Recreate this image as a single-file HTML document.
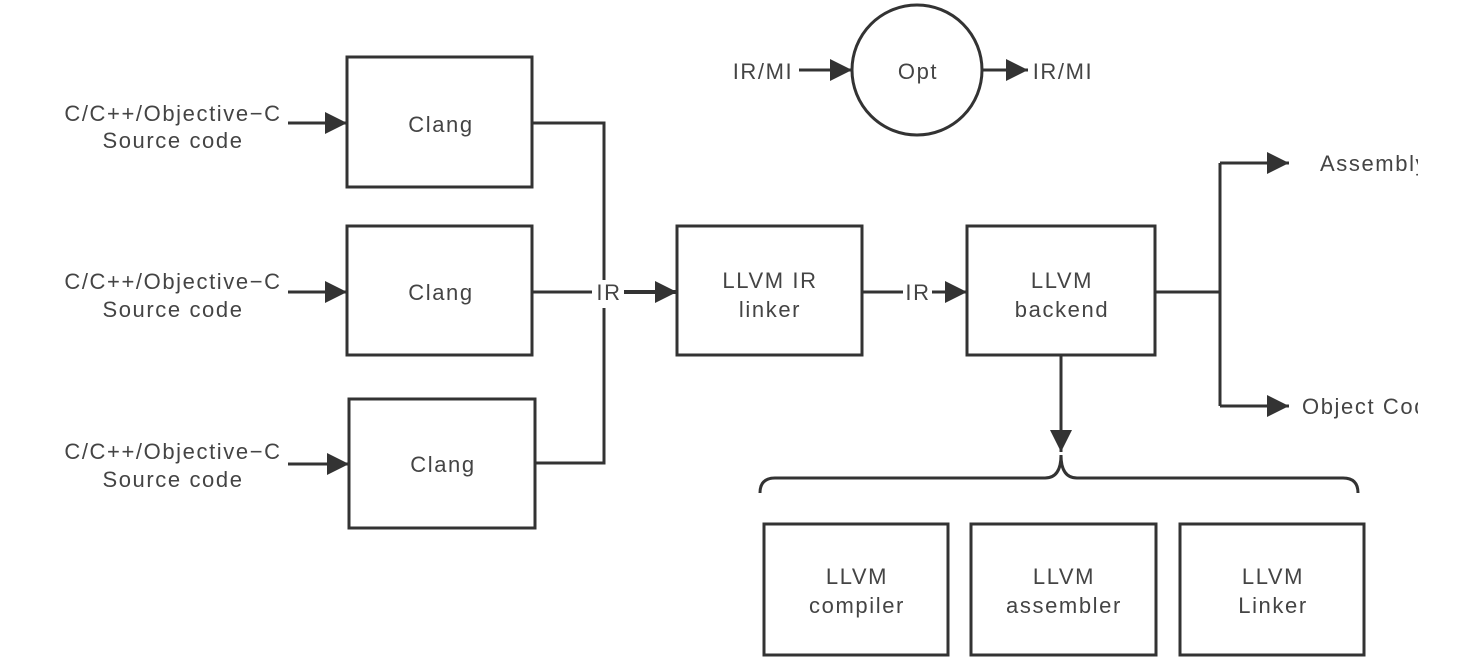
<!DOCTYPE html>
<html><head><meta charset="utf-8"><style>
html,body{margin:0;padding:0;background:#fff;}
svg{display:block;}
text{font-family:"Liberation Sans",sans-serif;font-size:22px;letter-spacing:1.6px;fill:#444;text-anchor:middle;}
</style></head><body>
<svg width="1469" height="664" viewBox="0 0 1469 664" xmlns="http://www.w3.org/2000/svg">
<defs>
<marker id="b" viewBox="0 0 10 10" refX="10" refY="5" markerWidth="32" markerHeight="22" markerUnits="userSpaceOnUse" orient="auto"><path d="M0,0L10,5L0,10z" fill="#333"/></marker>
</defs>
<g stroke="#333" stroke-width="3" fill="none">
<rect x="347" y="57" width="185" height="130"/>
<rect x="347" y="226" width="185" height="129"/>
<rect x="349" y="399" width="186" height="129"/>
<rect x="677" y="226" width="185" height="129"/>
<rect x="967" y="226" width="188" height="129"/>
<rect x="764" y="524" width="184" height="131"/>
<rect x="971" y="524" width="185" height="131"/>
<rect x="1180" y="524" width="184" height="131"/>
<circle cx="917" cy="70" r="65"/>
<path d="M532,123H604V280M604,308V463H535"/>
<path d="M532,292H592"/>
<path d="M862,292H903"/>
<path d="M1155,292H1220M1220,163V406"/>
<path d="M760,493Q760,478 775,478H1045Q1061,478 1061,455Q1061,478 1077,478H1343Q1358,478 1358,493"/>
</g>
<g stroke="#333" stroke-width="3" marker-end="url(#b)">
<line x1="288" y1="123" x2="347" y2="123"/>
<line x1="288" y1="292" x2="347" y2="292"/>
<line x1="288" y1="464" x2="349" y2="464"/>
<line x1="624" y1="292" x2="677" y2="292" stroke-width="4"/>
<line x1="932" y1="292" x2="967" y2="292"/>
<line x1="1220" y1="163" x2="1289" y2="163"/>
<line x1="1220" y1="406" x2="1289" y2="406"/>
<line x1="1061" y1="355" x2="1061" y2="452"/>
<line x1="799" y1="70" x2="852" y2="70"/>
<line x1="983" y1="70" x2="1028" y2="70"/>
</g>
<text x="173" y="121">C/C++/Objective−C</text><text x="173" y="148">Source code</text>
<text x="173" y="289">C/C++/Objective−C</text><text x="173" y="317">Source code</text>
<text x="173" y="459">C/C++/Objective−C</text><text x="173" y="487">Source code</text>
<text x="441" y="132">Clang</text>
<text x="441" y="300">Clang</text>
<text x="443" y="472">Clang</text>
<text x="609" y="300">IR</text>
<text x="918" y="300">IR</text>
<text x="770" y="288">LLVM IR</text><text x="770" y="317">linker</text>
<text x="1062" y="288">LLVM</text><text x="1062" y="317">backend</text>
<text x="918" y="79">Opt</text>
<text x="763" y="79">IR/MI</text>
<text x="1063" y="79">IR/MI</text>
<text x="1320" y="171" style="text-anchor:start">Assembly</text>
<text x="1302" y="414" style="text-anchor:start">Object Code</text>
<rect x="1418" y="140" width="51" height="290" fill="#fff"/>
<text x="857" y="584">LLVM</text><text x="857" y="613">compiler</text>
<text x="1064" y="584">LLVM</text><text x="1064" y="613">assembler</text>
<text x="1273" y="584">LLVM</text><text x="1273" y="613">Linker</text>
</svg>
</body></html>
